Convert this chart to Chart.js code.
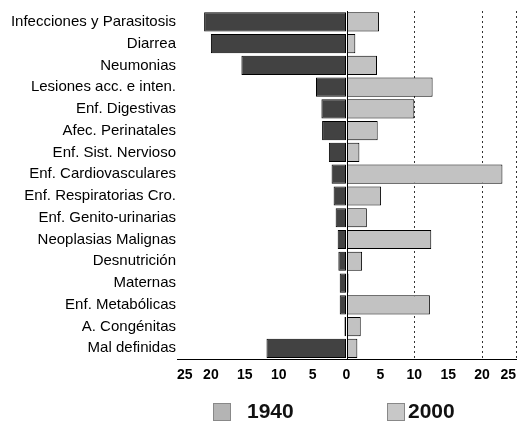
<!DOCTYPE html>
<html>
<head>
<meta charset="utf-8">
<script src="https://cdn.jsdelivr.net/npm/chart.js@4"></script>
<style>
  html, body { margin: 0; padding: 0; background: #fff; }
  #wrap { position: relative; width: 524px; height: 425px; }
  #legend { position: absolute; left: 0; top: 399px; width: 524px; height: 26px;
    font: bold 21px "Liberation Sans", Arial, sans-serif; color: #111; }
  .sw { position: absolute; top: 4px; width: 16px; height: 16px; border: 1px solid #888; }
  .txt { position: absolute; top: 0; line-height: 24px; }
</style>
</head>
<body>
<div id="wrap">
  <canvas id="chart" width="524" height="425"></canvas>
  <div id="legend"></div>
</div>
<script>
const categories = [
  'Infecciones y Parasitosis', 'Diarrea', 'Neumonias', 'Lesiones acc. e inten.',
  'Enf. Digestivas', 'Afec. Perinatales', 'Enf. Sist. Nervioso', 'Enf. Cardiovasculares',
  'Enf. Respiratorias Cro.', 'Enf. Genito-urinarias', 'Neoplasias Malignas', 'Desnutrición',
  'Maternas', 'Enf. Metabólicas', 'A. Congénitas', 'Mal definidas'
];
// percentages, 1940 drawn to the left
const values1940 = [21, 20, 15.5, 4.5, 3.7, 3.6, 2.6, 2.2, 1.9, 1.6, 1.3, 1.2, 1, 1, 0.3, 11.8];
const values2000 = [4.8, 1.3, 4.5, 12.7, 10, 4.6, 1.9, 23, 5.1, 3, 12.5, 2.3, 0.3, 12.3, 2.1, 1.6];
const seriesNames = ['1940', '2000'];
const xTicks = [-25, -20, -15, -10, -5, 0, 5, 10, 15, 20, 25];

const colors = ['#424242', '#c2c2c2'];
const swatchColors = ['#b4b4b4', '#c8c8c8'];

const zeroLine = {
  id: 'zeroLine',
  afterDatasetsDraw(chart) {
    const x = chart.scales.x.getPixelForValue(0);
    const area = chart.chartArea;
    const ctx = chart.ctx;
    ctx.save();
    ctx.strokeStyle = '#000';
    ctx.lineWidth = 1;
    ctx.beginPath();
    ctx.moveTo(Math.round(x) + 0.5, area.top);
    ctx.lineTo(Math.round(x) + 0.5, area.bottom);
    ctx.stroke();
    ctx.restore();
  }
};

new Chart(document.getElementById('chart'), {
  type: 'bar',
  data: {
    labels: categories,
    datasets: [
      {
        label: seriesNames[0],
        data: values1940.map((v) => -v),
        backgroundColor: colors[0],
        borderColor: '#000',
        borderWidth: 1,
        borderSkipped: false,
        categoryPercentage: 0.9,
        barPercentage: 0.98,
      },
      {
        label: seriesNames[1],
        data: values2000,
        backgroundColor: colors[1],
        borderColor: '#000',
        borderWidth: 1,
        borderSkipped: false,
        categoryPercentage: 0.9,
        barPercentage: 0.98,
      },
    ],
  },
  options: {
    indexAxis: 'y',
    responsive: false,
    animation: false,
    layout: { padding: { top: 11, right: 3, bottom: 33, left: 0 } },
    plugins: {
      legend: { display: false },
      tooltip: { enabled: false },
    },
    scales: {
      x: {
        stacked: true,
        min: -25,
        max: 25,
        afterBuildTicks: (scale) => { scale.ticks = xTicks.map((v) => ({ value: v })); },
        ticks: {
          callback: (v) => Math.abs(v),
          align: 'inner',
          color: '#000',
          padding: 8,
          font: { family: '"Liberation Sans", Arial, sans-serif', size: 14, weight: 'bold' },
        },
        grid: {
          drawTicks: false,
          color: (ctx) => (ctx.tick && [10, 20, 25].includes(ctx.tick.value) ? '#333' : 'rgba(0,0,0,0)'),
        },
        border: { display: true, color: '#000', width: 1, dash: [2, 3] },
      },
      y: {
        stacked: true,
        afterFit: (scale) => { scale.width = 177; },
        ticks: {
          color: '#000',
          padding: -7,
          font: { family: '"Liberation Sans", Arial, sans-serif', size: 15 },
        },
        grid: { display: false },
        border: { display: false },
      },
    },
  },
  plugins: [zeroLine],
});

const legendEl = document.getElementById('legend');
const swatchLeft = [213, 387];
const textLeft = [247, 408];
seriesNames.forEach((name, i) => {
  const sw = document.createElement('span');
  sw.className = 'sw';
  sw.style.left = swatchLeft[i] + 'px';
  sw.style.background = swatchColors[i];
  const txt = document.createElement('span');
  txt.className = 'txt';
  txt.style.left = textLeft[i] + 'px';
  txt.textContent = name;
  legendEl.appendChild(sw);
  legendEl.appendChild(txt);
});
</script>
</body>
</html>
